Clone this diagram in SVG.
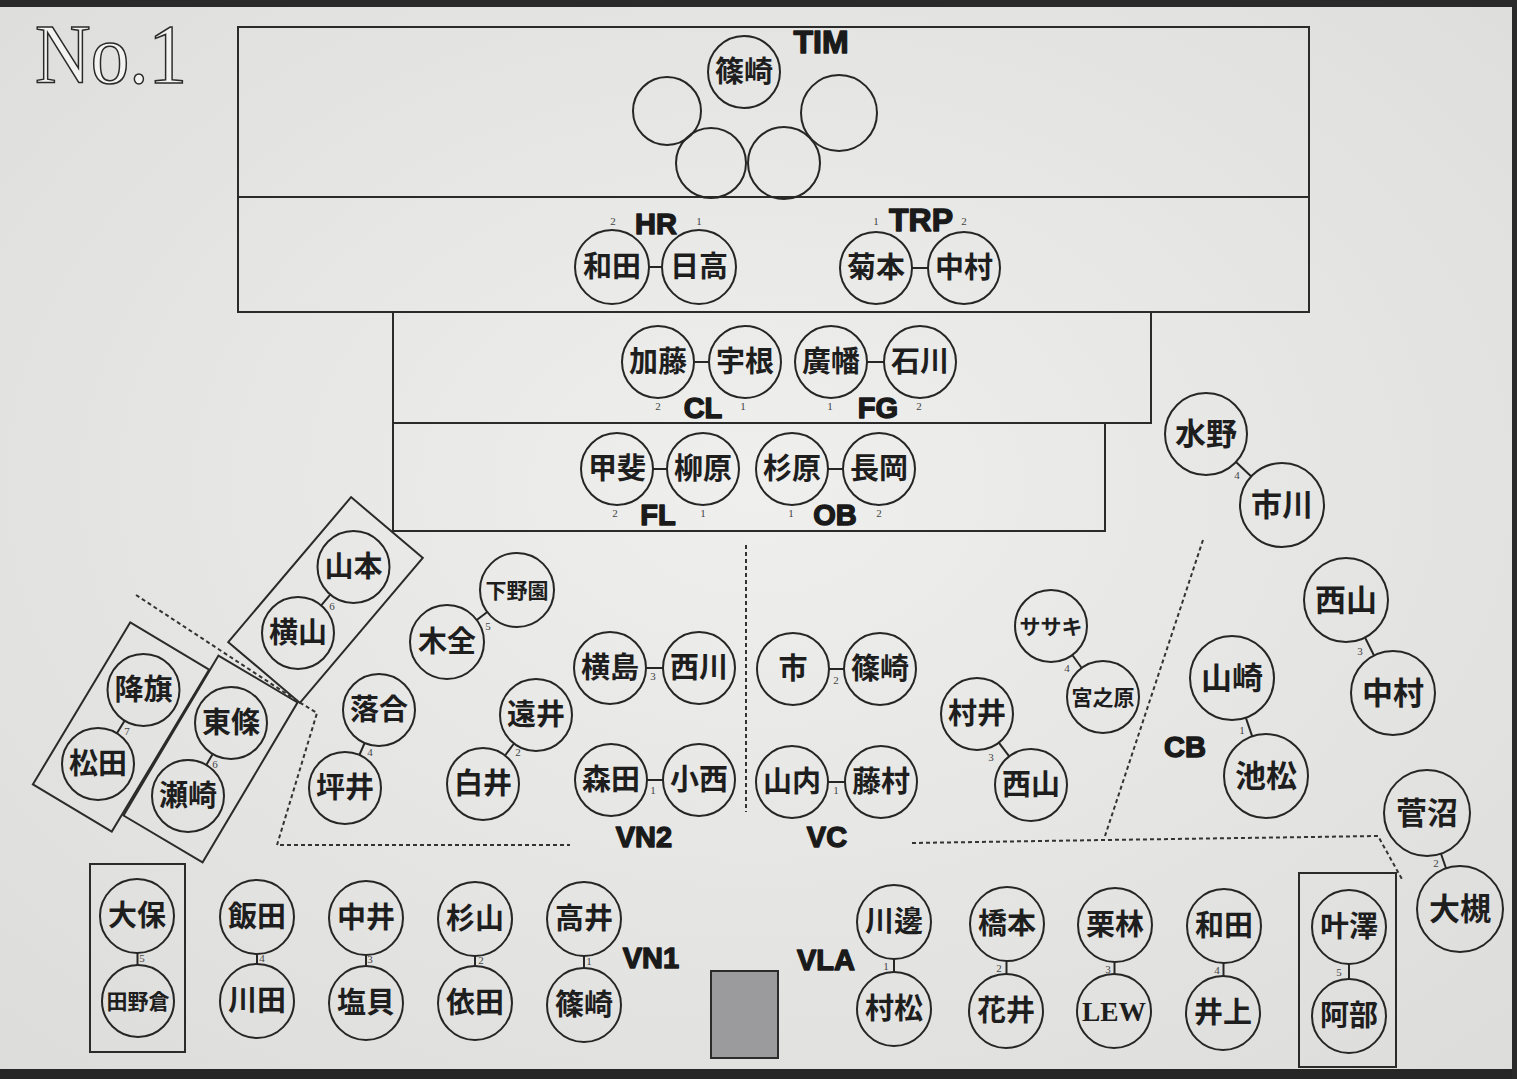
<svg xmlns="http://www.w3.org/2000/svg" width="1517" height="1079" viewBox="0 0 1517 1079">
<defs>
  <radialGradient id="paper" cx="50%" cy="45%" r="75%">
    <stop offset="0" stop-color="#efefed"/>
    <stop offset="1" stop-color="#dcdcda"/>
  </radialGradient>
</defs>
<style>
  .frame{fill:none;stroke:#2b2b2b;stroke-width:2}
  .seat{fill:none;stroke:#262626;stroke-width:2}
  .nm{font-family:"Noto Sans CJK JP","Noto Sans CJK SC",sans-serif;font-weight:700;font-size:29px;fill:#1e1e1e;text-anchor:middle}
  .big{font-size:31px}
  .nm3{font-size:21px}
  .lat{font-family:"Liberation Serif",serif;font-weight:700;font-size:28px}
  .num{font-family:"Liberation Serif",serif;font-size:11px;fill:#444;text-anchor:middle}
  .sec{font-family:"Liberation Sans",Arial,sans-serif;font-weight:700;font-size:29px;fill:#1a1a1a;stroke:#1a1a1a;stroke-width:1.4;stroke-linejoin:round;text-anchor:middle}
  .sec34{font-size:32px}
  .link{stroke:#262626;stroke-width:2;fill:none}
  .dash{stroke:#333;stroke-width:2;fill:none;stroke-dasharray:4 3}
  .title{font-family:"Liberation Serif",serif;font-size:84px;fill:#f3f3f1;stroke:#2a2a2a;stroke-width:1.6}
</style>

<rect width="1517" height="1079" fill="url(#paper)"/>
<rect x="0" y="0" width="1517" height="7" fill="#2a2a2a"/>
<rect x="0" y="1069" width="1517" height="10" fill="#262626"/>
<rect x="1512" y="0" width="5" height="1079" fill="#2a2a2a"/>

<text class="title" x="35" y="83" textLength="152" lengthAdjust="spacingAndGlyphs">No.1</text>

<g id="stage-frames">
  <rect class="frame" x="238" y="27" width="1071" height="170"/>
  <rect class="frame" x="238" y="197" width="1071" height="115"/>
  <rect class="frame" x="393" y="312" width="758" height="111"/>
  <rect class="frame" x="393" y="423" width="712" height="108"/>
  <rect class="frame" x="-95" y="-47" width="190" height="94" transform="translate(325.5,600) rotate(-49.7)"/>
  <rect class="frame" x="-94.5" y="-46" width="189" height="92" transform="translate(121,727) rotate(-59)"/>
  <rect class="frame" x="-93" y="-46" width="186" height="92" transform="translate(210.5,759) rotate(-59.3)"/>
  <rect class="frame" x="90" y="864" width="95" height="188"/>
  <rect class="frame" x="1299" y="873" width="97" height="194"/>
  <rect x="711" y="971" width="67" height="87" fill="#9b9b9d" stroke="#2b2b2b" stroke-width="2"/>
</g>

<g id="section-labels">
  <text class="sec sec34" x="821" y="53">TIM</text>
  <text class="sec" x="656" y="234">HR</text>
  <text class="sec sec34" x="921" y="231">TRP</text>
  <text class="sec" x="703" y="418">CL</text>
  <text class="sec" x="878" y="418">FG</text>
  <text class="sec" x="658" y="525">FL</text>
  <text class="sec" x="835" y="525">OB</text>
  <text class="sec" x="644" y="847">VN2</text>
  <text class="sec" x="827" y="847">VC</text>
  <text class="sec" x="1185" y="757">CB</text>
  <text class="sec" x="651" y="968">VN1</text>
  <text class="sec" x="826" y="970">VLA</text>
</g>

<g id="dividers">
  <path class="dash" d="M136,595 L299,702 L317,713 L277,845 L570,845"/>
  <path class="dash" d="M746,545 L746,812"/>
  <path class="dash" d="M1203,540 L1105,836"/>
  <path class="dash" d="M912,843 L1105,840 L1378,836 L1403,881"/>
</g>

<g id="connectors">
  <line class="link" x1="649" y1="267" x2="662" y2="267"/>
  <line class="link" x1="912" y1="268" x2="928" y2="268"/>
  <line class="link" x1="694" y1="362" x2="709" y2="362"/>
  <line class="link" x1="867" y1="362" x2="884" y2="362"/>
  <line class="link" x1="653" y1="469" x2="667" y2="469"/>
  <line class="link" x1="828" y1="469" x2="843" y2="469"/>
  <line class="link" x1="330.3" y1="594.6" x2="321.2" y2="605.4"/>
  <line class="link" x1="124.6" y1="720.7" x2="116.9" y2="733.3"/>
  <line class="link" x1="212.7" y1="754" x2="206.3" y2="765"/>
  <line class="link" x1="487.3" y1="612" x2="476.7" y2="620"/>
  <line class="link" x1="364.6" y1="743" x2="359.4" y2="755"/>
  <line class="link" x1="514" y1="743.5" x2="505" y2="755.5"/>
  <line class="link" x1="646" y1="668" x2="663" y2="668"/>
  <line class="link" x1="647" y1="780" x2="663" y2="780"/>
  <line class="link" x1="829" y1="669" x2="844" y2="669"/>
  <line class="link" x1="828" y1="782" x2="845" y2="782"/>
  <line class="link" x1="1072.3" y1="655" x2="1081.7" y2="668"/>
  <line class="link" x1="998.8" y1="742.7" x2="1009.2" y2="756.3"/>
  <line class="link" x1="1236" y1="462" x2="1251" y2="476.3"/>
  <line class="link" x1="1365" y1="637.5" x2="1374" y2="655.5"/>
  <line class="link" x1="1245.8" y1="717.7" x2="1252.2" y2="736.3"/>
  <line class="link" x1="1441" y1="853.7" x2="1446" y2="868.3"/>
  <line class="link" x1="137.5" y1="952" x2="137.5" y2="965"/>
  <line class="link" x1="257" y1="954" x2="257" y2="964"/>
  <line class="link" x1="366" y1="955" x2="366" y2="966"/>
  <line class="link" x1="475" y1="956" x2="475" y2="966"/>
  <line class="link" x1="584" y1="956" x2="584" y2="968"/>
  <line class="link" x1="894" y1="959" x2="894" y2="972"/>
  <line class="link" x1="1006.5" y1="961" x2="1006.5" y2="974"/>
  <line class="link" x1="1114.5" y1="962" x2="1114.5" y2="974"/>
  <line class="link" x1="1223.5" y1="963" x2="1223.5" y2="976"/>
  <line class="link" x1="1349" y1="964" x2="1349" y2="979"/>
  <text class="num" x="613" y="225">2</text>
  <text class="num" x="699" y="225">1</text>
  <text class="num" x="876" y="225">1</text>
  <text class="num" x="964" y="225">2</text>
  <text class="num" x="658" y="410">2</text>
  <text class="num" x="743" y="410">1</text>
  <text class="num" x="830" y="410">1</text>
  <text class="num" x="919" y="410">2</text>
  <text class="num" x="615" y="517">2</text>
  <text class="num" x="703" y="517">1</text>
  <text class="num" x="791" y="517">1</text>
  <text class="num" x="879" y="517">2</text>
  <text class="num" x="332" y="610">6</text>
  <text class="num" x="127" y="735">7</text>
  <text class="num" x="215" y="768">6</text>
  <text class="num" x="488" y="630">5</text>
  <text class="num" x="370" y="756">4</text>
  <text class="num" x="518" y="756">2</text>
  <text class="num" x="653" y="680">3</text>
  <text class="num" x="653" y="794">1</text>
  <text class="num" x="836" y="684">2</text>
  <text class="num" x="836" y="794">1</text>
  <text class="num" x="1067" y="672">4</text>
  <text class="num" x="991" y="761">3</text>
  <text class="num" x="1237" y="479">4</text>
  <text class="num" x="1360" y="655">3</text>
  <text class="num" x="1242" y="734">1</text>
  <text class="num" x="1436" y="867">2</text>
  <text class="num" x="142" y="962">5</text>
  <text class="num" x="262" y="962">4</text>
  <text class="num" x="370" y="963">3</text>
  <text class="num" x="481" y="964">2</text>
  <text class="num" x="589" y="965">1</text>
  <text class="num" x="886" y="970">1</text>
  <text class="num" x="999" y="972">2</text>
  <text class="num" x="1108" y="973">3</text>
  <text class="num" x="1217" y="974">4</text>
  <text class="num" x="1339" y="976">5</text>
</g>

<g id="tim-1"><circle class="seat" cx="744" cy="72" r="36"/><text class="nm" x="744" y="82">篠崎</text></g>
<g id="tim-2"><circle class="seat" cx="667" cy="111" r="34"/></g>
<g id="tim-3"><circle class="seat" cx="711" cy="163" r="35"/></g>
<g id="tim-4"><circle class="seat" cx="784" cy="163" r="36"/></g>
<g id="tim-5"><circle class="seat" cx="839" cy="113" r="38"/></g>

<g id="hr-2"><circle class="seat" cx="612" cy="267" r="37"/><text class="nm" x="612" y="277">和田</text></g>
<g id="hr-1"><circle class="seat" cx="699" cy="267" r="37"/><text class="nm" x="699" y="277">日高</text></g>
<g id="trp-1"><circle class="seat" cx="876" cy="268" r="36"/><text class="nm" x="876" y="278">菊本</text></g>
<g id="trp-2"><circle class="seat" cx="964" cy="268" r="36"/><text class="nm" x="964" y="278">中村</text></g>

<g id="cl-2"><circle class="seat" cx="658" cy="362" r="36"/><text class="nm" x="658" y="372">加藤</text></g>
<g id="cl-1"><circle class="seat" cx="745" cy="362" r="36"/><text class="nm" x="745" y="372">宇根</text></g>
<g id="fg-1"><circle class="seat" cx="831" cy="362" r="36"/><text class="nm" x="831" y="372">廣幡</text></g>
<g id="fg-2"><circle class="seat" cx="920" cy="362" r="36"/><text class="nm" x="920" y="372">石川</text></g>

<g id="fl-2"><circle class="seat" cx="617" cy="469" r="36"/><text class="nm" x="617" y="479">甲斐</text></g>
<g id="fl-1"><circle class="seat" cx="703" cy="469" r="36"/><text class="nm" x="703" y="479">柳原</text></g>
<g id="ob-1"><circle class="seat" cx="792" cy="469" r="36"/><text class="nm" x="792" y="479">杉原</text></g>
<g id="ob-2"><circle class="seat" cx="879" cy="469" r="36"/><text class="nm" x="879" y="479">長岡</text></g>

<g id="vn2-6a"><circle class="seat" cx="353.5" cy="567" r="36"/><text class="nm" x="353.5" y="577">山本</text></g>
<g id="vn2-6b"><circle class="seat" cx="298" cy="633" r="36"/><text class="nm" x="298" y="643">横山</text></g>
<g id="vn2-7a"><circle class="seat" cx="143.5" cy="690" r="36"/><text class="nm" x="143.5" y="700">降旗</text></g>
<g id="vn2-7b"><circle class="seat" cx="98" cy="764" r="36"/><text class="nm" x="98" y="774">松田</text></g>
<g id="vla-6a"><circle class="seat" cx="231" cy="723" r="36"/><text class="nm" x="231" y="733">東條</text></g>
<g id="vla-6b"><circle class="seat" cx="188" cy="796" r="36"/><text class="nm" x="188" y="806">瀬崎</text></g>
<g id="vn2-5a"><circle class="seat" cx="517" cy="590" r="37"/><text class="nm nm3" x="517" y="597.5">下野園</text></g>
<g id="vn2-5b"><circle class="seat" cx="447" cy="642" r="37"/><text class="nm" x="447" y="652">木全</text></g>
<g id="vn2-4a"><circle class="seat" cx="379" cy="710" r="36"/><text class="nm" x="379" y="720">落合</text></g>
<g id="vn2-4b"><circle class="seat" cx="345" cy="788" r="36"/><text class="nm" x="345" y="798">坪井</text></g>
<g id="vn2-2a"><circle class="seat" cx="536" cy="715" r="36"/><text class="nm" x="536" y="725">遠井</text></g>
<g id="vn2-2b"><circle class="seat" cx="483" cy="784" r="36"/><text class="nm" x="483" y="794">白井</text></g>
<g id="vn2-3a"><circle class="seat" cx="610" cy="668" r="36"/><text class="nm" x="610" y="678">横島</text></g>
<g id="vn2-3b"><circle class="seat" cx="699" cy="668" r="36"/><text class="nm" x="699" y="678">西川</text></g>
<g id="vn2-1a"><circle class="seat" cx="611" cy="780" r="36"/><text class="nm" x="611" y="790">森田</text></g>
<g id="vn2-1b"><circle class="seat" cx="699" cy="780" r="36"/><text class="nm" x="699" y="790">小西</text></g>

<g id="vc-2a"><circle class="seat" cx="793" cy="669" r="36"/><text class="nm" x="793" y="679">市</text></g>
<g id="vc-2b"><circle class="seat" cx="880" cy="669" r="36"/><text class="nm" x="880" y="679">篠崎</text></g>
<g id="vc-1a"><circle class="seat" cx="792" cy="782" r="36"/><text class="nm" x="792" y="792">山内</text></g>
<g id="vc-1b"><circle class="seat" cx="881" cy="782" r="36"/><text class="nm" x="881" y="792">藤村</text></g>
<g id="vc-4a"><circle class="seat" cx="1051" cy="626" r="36"/><text class="nm nm3" x="1051" y="633.5">ササキ</text></g>
<g id="vc-4b"><circle class="seat" cx="1103" cy="697" r="36"/><text class="nm nm3" x="1103" y="704.5">宮之原</text></g>
<g id="vc-3a"><circle class="seat" cx="977" cy="714" r="36"/><text class="nm" x="977" y="724">村井</text></g>
<g id="vc-3b"><circle class="seat" cx="1031" cy="785" r="36"/><text class="nm" x="1031" y="795">西山</text></g>

<g id="cb-4a"><circle class="seat" cx="1206" cy="434" r="41"/><text class="nm big" x="1206" y="445">水野</text></g>
<g id="cb-4b"><circle class="seat" cx="1282" cy="505" r="42"/><text class="nm big" x="1282" y="516">市川</text></g>
<g id="cb-3a"><circle class="seat" cx="1346" cy="600" r="42"/><text class="nm big" x="1346" y="611">西山</text></g>
<g id="cb-3b"><circle class="seat" cx="1393" cy="693" r="42"/><text class="nm big" x="1393" y="704">中村</text></g>
<g id="cb-1a"><circle class="seat" cx="1232" cy="678" r="42"/><text class="nm big" x="1232" y="689">山崎</text></g>
<g id="cb-1b"><circle class="seat" cx="1266" cy="776" r="42"/><text class="nm big" x="1266" y="787">池松</text></g>
<g id="cb-2a"><circle class="seat" cx="1427" cy="813" r="43"/><text class="nm big" x="1427" y="824">菅沼</text></g>
<g id="cb-2b"><circle class="seat" cx="1460" cy="909" r="43"/><text class="nm big" x="1460" y="920">大槻</text></g>

<g id="vn1-5a"><circle class="seat" cx="137" cy="916" r="37"/><text class="nm" x="137" y="926">大保</text></g>
<g id="vn1-5b"><circle class="seat" cx="138" cy="1001" r="36"/><text class="nm nm3" x="138" y="1008.5">田野倉</text></g>
<g id="vn1-4a"><circle class="seat" cx="257" cy="917" r="37"/><text class="nm" x="257" y="927">飯田</text></g>
<g id="vn1-4b"><circle class="seat" cx="257" cy="1001" r="37"/><text class="nm" x="257" y="1011">川田</text></g>
<g id="vn1-3a"><circle class="seat" cx="366" cy="918" r="37"/><text class="nm" x="366" y="928">中井</text></g>
<g id="vn1-3b"><circle class="seat" cx="366" cy="1003" r="37"/><text class="nm" x="366" y="1013">塩貝</text></g>
<g id="vn1-2a"><circle class="seat" cx="475" cy="919" r="37"/><text class="nm" x="475" y="929">杉山</text></g>
<g id="vn1-2b"><circle class="seat" cx="475" cy="1003" r="37"/><text class="nm" x="475" y="1013">依田</text></g>
<g id="vn1-1a"><circle class="seat" cx="584" cy="919" r="37"/><text class="nm" x="584" y="929">高井</text></g>
<g id="vn1-1b"><circle class="seat" cx="584" cy="1005" r="37"/><text class="nm" x="584" y="1015">篠崎</text></g>

<g id="vla-1a"><circle class="seat" cx="894" cy="922" r="37"/><text class="nm" x="894" y="932">川邊</text></g>
<g id="vla-1b"><circle class="seat" cx="894" cy="1009" r="37"/><text class="nm" x="894" y="1019">村松</text></g>
<g id="vla-2a"><circle class="seat" cx="1007" cy="924" r="37"/><text class="nm" x="1007" y="934">橋本</text></g>
<g id="vla-2b"><circle class="seat" cx="1006" cy="1011" r="37"/><text class="nm" x="1006" y="1021">花井</text></g>
<g id="vla-3a"><circle class="seat" cx="1115" cy="925" r="37"/><text class="nm" x="1115" y="935">栗林</text></g>
<g id="vla-3b"><circle class="seat" cx="1114" cy="1011" r="37"/><text class="nm lat" x="1114" y="1021" textLength="64" lengthAdjust="spacingAndGlyphs">LEW</text></g>
<g id="vla-4a"><circle class="seat" cx="1224" cy="926" r="37"/><text class="nm" x="1224" y="936">和田</text></g>
<g id="vla-4b"><circle class="seat" cx="1223" cy="1013" r="37"/><text class="nm" x="1223" y="1023">井上</text></g>
<g id="vla-5a"><circle class="seat" cx="1349" cy="927" r="37"/><text class="nm" x="1349" y="937">叶澤</text></g>
<g id="vla-5b"><circle class="seat" cx="1349" cy="1016" r="37"/><text class="nm" x="1349" y="1026">阿部</text></g>
</svg>
